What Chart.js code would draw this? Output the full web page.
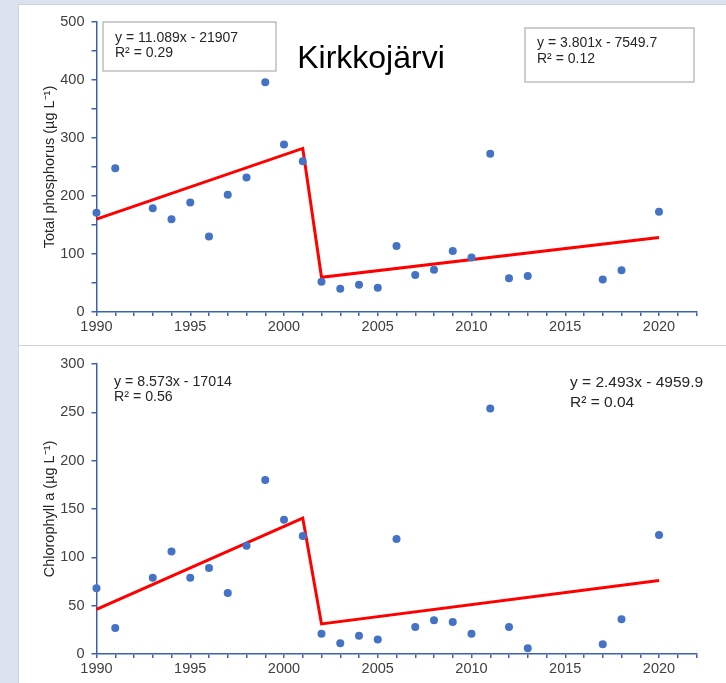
<!DOCTYPE html>
<html>
<head>
<meta charset="utf-8">
<script src="https://cdn.jsdelivr.net/npm/chart.js@4.4.1/dist/chart.umd.min.js"></script>
<style>
  html, body { margin: 0; padding: 0; width: 726px; height: 683px; overflow: hidden; background: #dae3ef; }
  .panel { position: absolute; background: #ffffff; border: 1px solid #cfd3d9; }
  canvas { position: absolute; }
</style>
</head>
<body>
<div class="panel" style="left:18px; top:4px; width:780px; height:340px;"></div>
<div class="panel" style="left:18px; top:345px; width:780px; height:360px;"></div>
<canvas id="tp" width="707" height="339" style="left:19px; top:5px;"></canvas>
<canvas id="chl" width="707" height="337" style="left:19px; top:346px;"></canvas>
<script>
// Sampling years and measured values
const years = [1990, 1991, 1993, 1994, 1995, 1996, 1997, 1998, 1999, 2000, 2001, 2002, 2003,
               2004, 2005, 2006, 2007, 2008, 2009, 2010, 2011, 2012, 2013, 2017, 2018, 2020];
const totalPhosphorus = [171, 248, 179, 160, 189, 130, 202, 232, 396, 289, 260, 52, 40,
                         47, 42, 114, 64, 73, 105, 94, 273, 58, 62, 56, 72, 173];
const chlorophyllA = [68, 27, 79, 106, 79, 89, 63, 112, 180, 139, 122, 21, 11,
                      19, 15, 119, 28, 35, 33, 21, 254, 28, 6, 10, 36, 123];

// Linear fits for the two periods: [slope, intercept], with R²
const fitPeriods = [[1990, 2001], [2002, 2020]];
const tpFits = [[11.089, -21907], [3.801, -7549.7]];
const tpR2 = [0.29, 0.12];
const chlFits = [[8.573, -17014], [2.493, -4959.9]];
const chlR2 = [0.56, 0.04];

// Axis ticks
const xMinorTicks = [];
for (let yr = 1990; yr <= 2022; yr++) xMinorTicks.push(yr);
const xTickLabels = [1990, 1995, 2000, 2005, 2010, 2015, 2020];
const tpTicks = [0, 50, 100, 150, 200, 250, 300, 350, 400, 450, 500];
const tpTickLabels = [0, 100, 200, 300, 400, 500];
const chlTicks = [0, 50, 100, 150, 200, 250, 300];
const chlTickLabels = [0, 50, 100, 150, 200, 250, 300];

const FONT = '"Liberation Sans", Arial, sans-serif';
const AXIS = '#3d62ad';
const LABEL = '#404040';

function trendPoints(fits) {
  const pts = [];
  fitPeriods.forEach((p, i) => {
    const [m, b] = fits[i];
    p.forEach(x => pts.push({ x: x, y: m * x + b }));
  });
  return pts;
}

function equation(fit) {
  return 'y = ' + fit[0] + 'x - ' + (-fit[1]);
}

// Draws title, equation text and their frames on top of the plot
const notesPlugin = {
  id: 'notes',
  afterDraw(chart, args, opts) {
    const ctx = chart.ctx;
    (opts.boxes || []).forEach(b => {
      ctx.save();
      ctx.fillStyle = '#ffffff';
      ctx.fillRect(b.x, b.y, b.w, b.h);
      ctx.strokeStyle = '#bfbfbf';
      ctx.lineWidth = 1.5;
      ctx.strokeRect(b.x, b.y, b.w, b.h);
      ctx.restore();
    });
    (opts.texts || []).forEach(t => {
      ctx.save();
      ctx.font = t.font;
      ctx.fillStyle = t.color || '#262626';
      ctx.textAlign = t.align || 'left';
      ctx.textBaseline = 'alphabetic';
      ctx.fillText(t.text, t.x, t.y);
      ctx.restore();
    });
  }
};

function makeChart(id, values, fits, yMax, yTicks, yLabels, yTitle, xHeight, padTop, notes) {
  return new Chart(document.getElementById(id), {
    type: 'scatter',
    data: {
      datasets: [
        {
          data: years.map((yr, i) => ({ x: yr, y: values[i] })),
          backgroundColor: '#4472c4',
          borderWidth: 0,
          pointRadius: 4,
          pointHoverRadius: 4,
          clip: false,
          order: 0
        },
        {
          data: trendPoints(fits),
          showLine: true,
          borderColor: '#ff0000',
          borderWidth: 3,
          pointRadius: 0,
          tension: 0,
          fill: false,
          clip: false,
          order: 1
        }
      ]
    },
    options: {
      responsive: false,
      animation: false,
      events: [],
      layout: { padding: { left: 0, right: 29.5, top: padTop, bottom: 0 } },
      plugins: { legend: { display: false }, tooltip: { enabled: false }, notes: notes },
      scales: {
        x: {
          type: 'linear',
          min: 1990,
          max: 2022,
          afterFit(s) { s.height = xHeight; },
          afterBuildTicks(s) { s.ticks = xMinorTicks.map(v => ({ value: v })); },
          ticks: {
            autoSkip: false,
            maxRotation: 0,
            padding: 2,
            color: LABEL,
            font: { family: FONT, size: 14.5 },
            callback: v => (xTickLabels.includes(v) ? String(v) : '')
          },
          grid: { drawOnChartArea: false, drawTicks: true, tickLength: 4, color: AXIS, lineWidth: 1.5 },
          border: { display: true, color: AXIS, width: 1.5 }
        },
        y: {
          min: 0,
          max: yMax,
          afterFit(s) { s.width = 77.5; },
          afterBuildTicks(s) { s.ticks = yTicks.map(v => ({ value: v })); },
          ticks: {
            padding: 7,
            color: LABEL,
            font: { family: FONT, size: 14.5 },
            callback: v => (yLabels.includes(v) ? String(v) : '')
          },
          grid: { drawOnChartArea: false, drawTicks: true, tickLength: 5, color: AXIS, lineWidth: 1.5 },
          border: { display: true, color: AXIS, width: 1.5 },
          title: {
            display: true,
            text: yTitle,
            color: '#262626',
            font: { family: FONT, size: 14.5 },
            padding: { top: 22, bottom: 0 }
          }
        }
      }
    },
    plugins: [notesPlugin]
  });
}

makeChart('tp', totalPhosphorus, tpFits, 500, tpTicks, tpTickLabels,
  'Total phosphorus (µg L⁻¹)', 32, 17, {
    boxes: [
      { x: 84, y: 17, w: 173, h: 49 },
      { x: 506, y: 23, w: 169, h: 54 }
    ],
    texts: [
      { text: 'Kirkkojärvi', x: 352, y: 63, align: 'center', font: '32px ' + FONT, color: '#000000' },
      { text: equation(tpFits[0]), x: 96, y: 36.5, font: '14px ' + FONT },
      { text: 'R² = ' + tpR2[0], x: 96, y: 52, font: '14px ' + FONT },
      { text: equation(tpFits[1]), x: 518, y: 41.5, font: '14px ' + FONT },
      { text: 'R² = ' + tpR2[1], x: 518, y: 58, font: '14px ' + FONT }
    ]
  });

makeChart('chl', chlorophyllA, chlFits, 300, chlTicks, chlTickLabels,
  'Chlorophyll a (µg L⁻¹)', 29, 18, {
    texts: [
      { text: equation(chlFits[0]), x: 95, y: 39.5, font: '14.2px ' + FONT },
      { text: 'R² = ' + chlR2[0], x: 95, y: 54.5, font: '14.2px ' + FONT },
      { text: equation(chlFits[1]), x: 551, y: 40.5, font: '15.5px ' + FONT },
      { text: 'R² = ' + chlR2[1], x: 551, y: 60.5, font: '15.5px ' + FONT }
    ]
  });
</script>
</body>
</html>
